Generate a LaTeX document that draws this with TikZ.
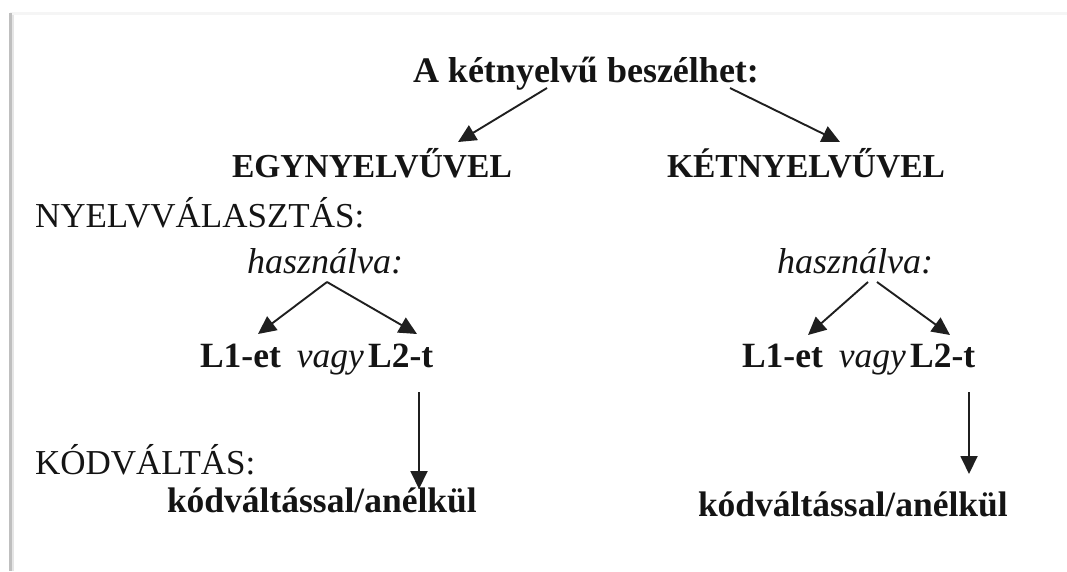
\documentclass[tikz,border=0pt]{standalone}
\usepackage{fontspec}
\setmainfont{Liberation Serif}
\usetikzlibrary{arrows.meta}
\tikzset{
  txt/.style={anchor=base west, inner sep=0pt, outer sep=0pt, text=black!92},
  conn/.style={line width=1.9pt, draw=black!88, -{Triangle[length=18pt,width=17pt]}},
}
\begin{document}
\begin{tikzpicture}[x=1pt,y=-1pt]
\useasboundingbox (0,0) rectangle (1067,571);
% frame edges (screenshot border)
\fill[black!4] (10,12) rectangle (1067,15);
\fill[black!25] (9,13) rectangle (12,571);
\fill[black!10] (12,15) rectangle (14,571);
% texts
\node[txt, font=\fontsize{36}{40}\selectfont\bfseries] (title) at (413,82) {A kétnyelvű beszélhet:};
\node[txt, font=\fontsize{33.5}{38}\selectfont\bfseries] (egy) at (232,177) {EGYNYELVŰVEL};
\node[txt, font=\fontsize{33.5}{38}\selectfont\bfseries] (ket) at (667,177) {KÉTNYELVŰVEL};
\node[txt, font=\fontsize{35}{40}\selectfont] (nyv) at (35,227) {NYELVVÁLASZTÁS:};
\node[txt, font=\fontsize{36}{40}\selectfont\itshape] (hl) at (247,273) {használva:};
\node[txt, font=\fontsize{36}{40}\selectfont\itshape] (hr) at (777,273) {használva:};
\node[txt, font=\fontsize{35.5}{40}\selectfont] (ll) at (200,367) {\textbf{L1-et}\hspace{0.45em}\textit{vagy}\hspace{0.12em}\textbf{L2-t}};
\node[txt, font=\fontsize{35.5}{40}\selectfont] (lr) at (742,367) {\textbf{L1-et}\hspace{0.45em}\textit{vagy}\hspace{0.12em}\textbf{L2-t}};
\node[txt, font=\fontsize{35}{40}\selectfont] (kv) at (35,474) {KÓDVÁLTÁS:};
\node[txt, font=\fontsize{35.5}{40}\selectfont\bfseries] (kl) at (167,512) {kódváltással/anélkül};
\node[txt, font=\fontsize{35.5}{40}\selectfont\bfseries] (kr) at (698,516) {kódváltással/anélkül};
% connector end points
\coordinate (t1) at (547,88);  \coordinate (e1) at (458,142);
\coordinate (t2) at (730,88);  \coordinate (e2) at (840,142);
\coordinate (hl0) at (327,282); \coordinate (ll1) at (258,334); \coordinate (ll2) at (417,334);
\coordinate (hr1) at (868,282); \coordinate (hr2) at (877,282);
\coordinate (lr1) at (808,335); \coordinate (lr2) at (950,335);
\coordinate (ls) at (419,392); \coordinate (le) at (419,489);
\coordinate (rs) at (969,392); \coordinate (re) at (969,474);
% connectors
\draw[conn] (t1) -- (e1);
\draw[conn] (t2) -- (e2);
\draw[conn] (hl0) -- (ll1);
\draw[conn] (hl0) -- (ll2);
\draw[conn] (hr1) -- (lr1);
\draw[conn] (hr2) -- (lr2);
\draw[conn] (ls) -- (le);
\draw[conn] (rs) -- (re);
\end{tikzpicture}
\end{document}
